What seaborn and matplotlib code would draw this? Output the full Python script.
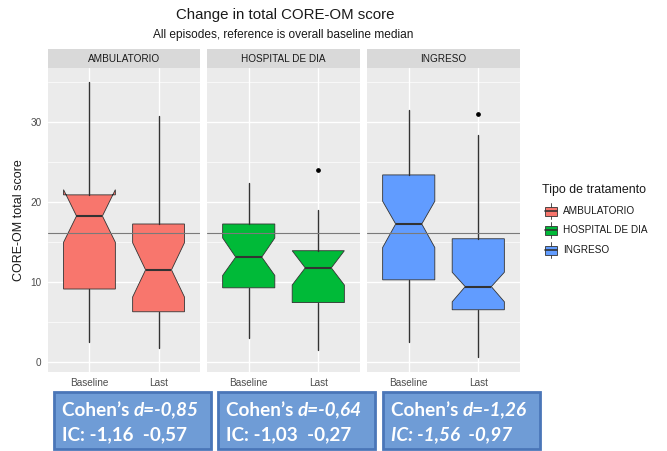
import matplotlib
matplotlib.use("Agg")
import matplotlib.pyplot as plt
import seaborn as sns
from matplotlib.patches import Rectangle
from matplotlib.ticker import MultipleLocator

# ---------------- data ----------------
groups = ["AMBULATORIO", "HOSPITAL DE DIA", "INGRESO"]
times = ["Baseline", "Last"]
whisker_low = [[2.4, 1.75], [3.0, 1.5], [2.4, 0.6]]
q1 = [[9.1, 6.25], [9.25, 7.4], [10.25, 6.5]]
median = [[18.25, 11.5], [13.1, 11.75], [17.25, 9.4]]
q3 = [[20.9, 17.25], [17.25, 13.9], [23.4, 15.4]]
whisker_high = [[35.0, 30.75], [22.4, 19.0], [31.5, 28.4]]
notch_low = [[14.95, 8.1], [10.8, 9.6], [14.3, 7.5]]
notch_high = [[21.55, 14.9], [15.5, 13.9], [20.1, 11.2]]
outliers = [[[], []], [[], [24.0]], [[], [31.0]]]
reference_median = 16.1
cohen_d = ["-0,85", "-0,64", "-1,26"]
ci_text = ["IC: -1,16  -0,57", "IC: -1,03  -0,27", "IC: -1,56  -0,97"]
yticks = [0, 10, 20, 30]
palette = ["#F8766D", "#00BA38", "#619CFF"]

# ---------------- style ----------------
sns.set_theme(style="darkgrid", rc={
    "axes.facecolor": "#EBEBEB",
    "grid.color": "white",
    "axes.edgecolor": "none",
})
plt.rcParams["font.family"] = ["Liberation Sans", "DejaVu Sans"]

W, H = 667, 451
fig = plt.figure(figsize=(W / 100, H / 100), dpi=100)

def fx(px):
    return px / W

def fy(py):
    return 1 - py / H

panel_x = [(48, 200), (207, 360), (367, 520)]
top_px, bot_px, strip_top_px = 68, 372, 49
grey20 = "#333333"
small = 7.2

for g, (x0, x1) in enumerate(panel_x):
    ax = fig.add_axes([fx(x0), fy(bot_px), fx(x1 - x0), (bot_px - top_px) / H])
    stats = []
    for t in range(2):
        stats.append(dict(
            med=median[g][t], q1=q1[g][t], q3=q3[g][t],
            whislo=whisker_low[g][t], whishi=whisker_high[g][t],
            cilo=notch_low[g][t], cihi=notch_high[g][t],
            fliers=outliers[g][t], label=times[t]))
    ax.bxp(stats, positions=[0, 1], widths=0.75, patch_artist=True,
           shownotches=True, showcaps=False, manage_ticks=False,
           boxprops=dict(facecolor=palette[g], edgecolor=grey20, linewidth=0.6),
           whiskerprops=dict(color=grey20, linewidth=1.0),
           medianprops=dict(color=grey20, linewidth=1.5),
           flierprops=dict(marker="o", markerfacecolor="black",
                           markeredgecolor="black", markersize=2.4),
           zorder=3)
    ax.axhline(reference_median, color="#7a7a7a", linewidth=0.8, zorder=4)
    ax.set_xlim(-0.6, 1.6)
    ax.set_ylim(-1.3, 36.8)
    ax.set_xticks([0, 1])
    ax.set_xticklabels(times)
    ax.set_yticks(yticks)
    ax.yaxis.set_minor_locator(MultipleLocator(5))
    ax.grid(which="major", color="white", linewidth=1.0)
    ax.grid(which="minor", axis="y", color="white", linewidth=0.5)
    ax.tick_params(axis="both", which="major", length=2.5, width=0.6,
                   color=grey20, labelsize=small, labelcolor="#4D4D4D", pad=2)
    ax.tick_params(which="minor", length=0)
    if g == 0:
        ax.set_yticklabels([str(v) for v in yticks])
    else:
        ax.set_yticklabels([])
        ax.tick_params(axis="y", length=0)
    for s in ax.spines.values():
        s.set_visible(False)
    # strip
    sax = fig.add_axes([fx(x0), fy(top_px), fx(x1 - x0), (top_px - strip_top_px) / H])
    sax.set_facecolor("#D9D9D9")
    sax.set_xticks([]); sax.set_yticks([])
    sax.grid(False)
    for s in sax.spines.values():
        s.set_visible(False)
    sax.text(0.5, 0.5, groups[g], ha="center", va="center", fontsize=small,
             color="#1A1A1A", transform=sax.transAxes)

# titles
fig.text(fx(285), fy(15), "Change in total CORE-OM score", ha="center", va="center",
         fontsize=10.8, color="#1A1A1A")
fig.text(fx(283), fy(35), "All episodes, reference is overall baseline median",
         ha="center", va="center", fontsize=8.6, color="#1A1A1A")
fig.text(fx(19), fy(220), "CORE-OM total score", rotation=90, ha="center",
         va="center", fontsize=9.0, color="#1A1A1A")

# overlay in pixel coordinates
overlay = fig.add_axes([0, 0, 1, 1])
overlay.set_axis_off()
overlay.set_xlim(0, W); overlay.set_ylim(H, 0)

# legend
overlay.text(542, 190, "Tipo de tratamento", ha="left", va="center",
             fontsize=8.9, color="#1A1A1A")
key_y = [211, 230, 250]
for c, name, ky in zip(palette, groups, key_y):
    overlay.plot([551, 551], [ky - 8, ky + 8], color=grey20, linewidth=0.6)
    overlay.add_patch(Rectangle((545, ky - 4.5), 12, 9, facecolor=c,
                                edgecolor=grey20, linewidth=0.6, zorder=3))
    overlay.plot([545, 557], [ky, ky], color=grey20, linewidth=1.2, zorder=4)
    overlay.text(563, ky, name, ha="left", va="center", fontsize=small,
                 color="#1A1A1A")

# Cohen's d boxes
box_x = [(54, 211), (218, 375), (383, 540)]
fam = ["Lato", "DejaVu Sans"]
for i, (b0, b1) in enumerate(box_x):
    overlay.add_patch(Rectangle((b0, 392), b1 - b0, 57,
                                facecolor="#6F9CD6", edgecolor="#4A76B8",
                                linewidth=2.0))
    t1 = overlay.text(b0 + 8, 410, "Cohen\u2019s ", ha="left", va="center",
                      fontsize=13.6, fontweight="bold", color="white", family=fam)
    overlay.annotate("d=" + cohen_d[i], xy=(1, 0), xycoords=t1, ha="left",
                     va="bottom", fontsize=13.6, fontweight="bold", fontstyle="italic",
                     color="white", family=fam)
    overlay.text(b0 + 8, 435, ci_text[i], ha="left", va="center",
                 fontsize=13.6, fontweight="bold", color="white",
                 fontstyle="italic" if i == 2 else "normal", family=fam)

fig.savefig("out.png", dpi=100)
